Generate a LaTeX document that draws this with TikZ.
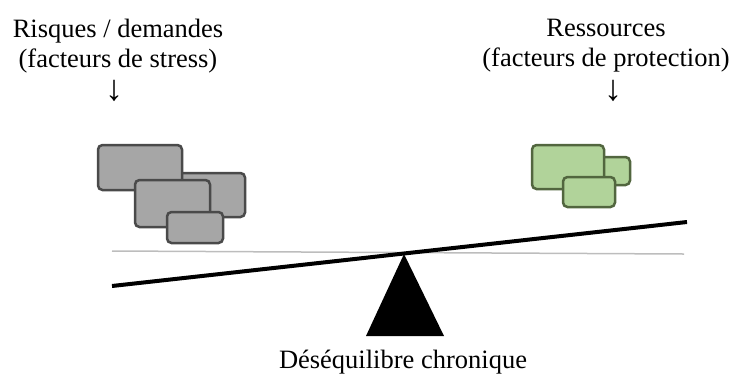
\documentclass[tikz,border=0pt]{standalone}
\usepackage{fontspec}
\setmainfont{Liberation Serif}

\definecolor{stressfill}{HTML}{A6A6A6}
\definecolor{stressline}{HTML}{4A4A4A}
\definecolor{protfill}{HTML}{B1D39A}
\definecolor{protline}{HTML}{52663F}
\definecolor{levelgray}{HTML}{BDBDBD}

\tikzset{
    stressbox/.style={draw=stressline, fill=stressfill, line width=2.5pt, rounded corners=4.5pt},
    protbox/.style={draw=protline, fill=protfill, line width=2.5pt, rounded corners=4.5pt},
    captiontext/.style={inner sep=0pt, align=center, font=\fontsize{26.5}{30}\selectfont},
    downarrow/.style={inner sep=0pt, font=\fontsize{36}{36}\selectfont}
}

\begin{document}
\begin{tikzpicture}[x=1pt,y=-1pt]
        \useasboundingbox (0,0) rectangle (736,376);

        % Titles of both sides
        \node[captiontext, anchor=north] (risks) at (118,19) {Risques / demandes\\(facteurs de stress)};
        \node[captiontext, anchor=north] (resources) at (606,19) {Ressources\\(facteurs de protection)};

        % Arrows pointing down to the weights
        \node[downarrow] (risksarrow) at (114,91) {↓};
        \node[downarrow] (resourcesarrow) at (613,91) {↓};

        % Draw stress weights (left side)
        \draw[stressbox] (170,173) rectangle (245,217);
        \draw[stressbox] (98,145) rectangle (182,190);
        \draw[stressbox] (135,180) rectangle (210,227);
        \draw[stressbox] (167,212) rectangle (223,243);

        % Draw protection weights (right side)
        \draw[protbox] (595,157) rectangle (630,185);
        \draw[protbox] (532,145) rectangle (604,189);
        \draw[protbox] (563,177) rectangle (615,207);

        % Draw the balance
        \coordinate (pivot) at (404,254);
        \coordinate (beamleft) at (112,286);
        \coordinate (beamright) at (687,222);

        % horizontal reference line
        \draw[levelgray, line width=1.5pt] (112,251) -- (684,254);

        % tilted beam
        \draw[line width=4pt] (beamleft) -- (beamright);

        % fulcrum
        \fill[black] (pivot) -- (366,336) -- (444,336) -- cycle;

        % Caption under the balance
        \node[captiontext, anchor=base] (imbalance) at (403,368) {Déséquilibre chronique};
\end{tikzpicture}
\end{document}
